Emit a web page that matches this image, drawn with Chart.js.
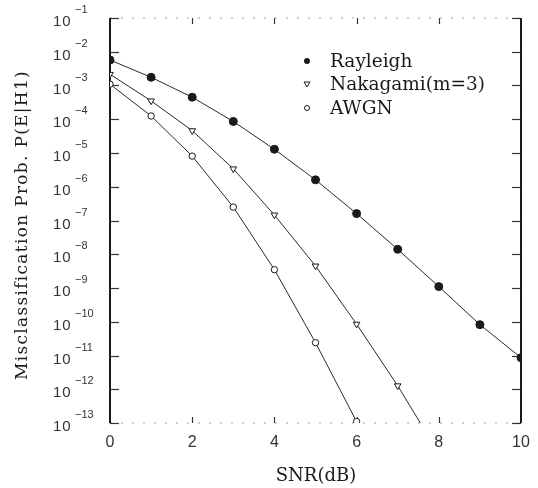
<!DOCTYPE html>
<html>
<head>
<meta charset="utf-8">
<script src="https://cdn.jsdelivr.net/npm/chart.js@4/dist/chart.umd.min.js"></script>
<style>
  html, body { margin: 0; padding: 0; background: #fff; }
  canvas { display: block; }
</style>
</head>
<body>
<canvas id="errChart" width="538" height="488"></canvas>
<script>
// SNR in dB and misclassification probabilities per channel
const snr = [0, 1, 2, 3, 4, 5, 6, 7, 8, 9, 10];
const rayleigh = [5.7e-3, 1.75e-3, 4.5e-4, 8.6e-5, 1.29e-5, 1.6e-6, 1.6e-7, 1.4e-8, 1.1e-9, 8.2e-11, 8.6e-12];
const nakagami = [2.15e-3, 3.5e-4, 4.6e-5, 3.4e-6, 1.46e-7, 4.5e-9, 8.5e-11, 1.27e-12, 1.26e-14];
const awgn = [1.09e-3, 1.25e-4, 8.1e-6, 2.5e-7, 3.5e-9, 2.4e-11, 1.1e-13];

const seriesNames = ['Rayleigh', 'Nakagami(m=3)', 'AWGN'];
const xTicks = [0, 2, 4, 6, 8, 10];
const yExponents = [-1, -2, -3, -4, -5, -6, -7, -8, -9, -10, -11, -12, -13];

const yTitle = 'Misclassification Prob. P(E|H1)';
const xTitle = 'SNR(dB)';

const ink = '#1a1a1a';
const tickFont = '"Liberation Sans", Arial, sans-serif';
const textFont = '"DejaVu Serif", "Liberation Serif", serif';

function toPoints(values) {
    return values.map((v, i) => ({ x: snr[i], y: v }));
}

function strokeLine(ctx, x1, y1, x2, y2) {
    ctx.beginPath();
    ctx.moveTo(x1, y1);
    ctx.lineTo(x2, y2);
    ctx.stroke();
}

// Frame, tick marks, tick labels, titles and legend
const decorations = {
    id: 'decorations',
    beforeDatasetsDraw(chart) {
        const { ctx, chartArea: a, scales: { x, y } } = chart;
        ctx.save();

        // faint dotted top and bottom edges
        ctx.strokeStyle = '#a0a0a0';
        ctx.lineWidth = 1;
        ctx.setLineDash([2, 9]);
        strokeLine(ctx, a.left, a.top, a.right, a.top);
        strokeLine(ctx, a.left, a.bottom, a.right, a.bottom);
        ctx.setLineDash([]);

        // solid left and right edges
        ctx.strokeStyle = ink;
        ctx.lineWidth = 2;
        strokeLine(ctx, a.left, a.top, a.left, a.bottom);
        strokeLine(ctx, a.right, a.top, a.right, a.bottom);

        // inward ticks
        ctx.lineWidth = 1.2;
        ctx.strokeStyle = '#333';
        yExponents.forEach(e => {
            const py = Math.round(y.getPixelForValue(Math.pow(10, e))) + 0.5;
            strokeLine(ctx, a.left, py, a.left + 9, py);
            strokeLine(ctx, a.right - 9, py, a.right, py);
        });
        xTicks.slice(1, -1).forEach(t => {
            const px = Math.round(x.getPixelForValue(t)) + 0.5;
            strokeLine(ctx, px, a.top, px, a.top + 6);
            strokeLine(ctx, px, a.bottom - 6, px, a.bottom);
        });
        ctx.restore();
    },
    afterDraw(chart) {
        const { ctx, chartArea: a, scales: { x, y } } = chart;
        ctx.save();
        ctx.fillStyle = '#333';

        // y tick labels: 10 with a raised exponent
        yExponents.forEach(e => {
            const py = y.getPixelForValue(Math.pow(10, e));
            ctx.font = '15px ' + tickFont;
            ctx.letterSpacing = '1px';
            ctx.textAlign = 'left';
            ctx.textBaseline = 'middle';
            ctx.fillText('10', 53, py + 4);
            ctx.letterSpacing = '0px';
            ctx.font = '11px ' + tickFont;
            ctx.fillText('\u2212' + Math.abs(e), 75, py - 8);
        });

        // x tick labels
        ctx.font = '16px ' + tickFont;
        ctx.textAlign = 'center';
        ctx.textBaseline = 'middle';
        xTicks.forEach(t => ctx.fillText(String(t), x.getPixelForValue(t), 443));

        // axis titles
        ctx.fillStyle = ink;
        ctx.font = '18px ' + textFont;
        ctx.fillText(xTitle, 316, 476);
        ctx.save();
        ctx.translate(23, 225);
        ctx.rotate(-Math.PI / 2);
        ctx.font = '17px ' + textFont;
        ctx.letterSpacing = '1.3px';
        ctx.fillText(yTitle, 0, 0);
        ctx.restore();

        // legend
        const rows = [61, 84, 108];
        ctx.font = '18.5px ' + textFont;
        ctx.textAlign = 'left';
        chart.data.datasets.forEach((ds, i) => {
            const my = rows[i];
            const mx = 307;
            ctx.strokeStyle = ink;
            ctx.fillStyle = ink;
            ctx.lineWidth = 1;
            ctx.beginPath();
            if (i === 0) {
                ctx.arc(mx, my, 3, 0, Math.PI * 2);
                ctx.fill();
            } else if (i === 1) {
                ctx.moveTo(mx - 3, my - 2);
                ctx.lineTo(mx + 3, my - 2);
                ctx.lineTo(mx, my + 3);
                ctx.closePath();
                ctx.stroke();
            } else {
                ctx.arc(mx, my, 2.5, 0, Math.PI * 2);
                ctx.stroke();
            }
            ctx.fillText(ds.label, 330, my + 1);
        });
        ctx.restore();
    }
};

const baseSet = {
    borderColor: '#2a2a2a',
    borderWidth: 1,
    pointBorderColor: ink,
    pointBorderWidth: 1,
    fill: false,
    tension: 0
};

new Chart(document.getElementById('errChart'), {
    type: 'line',
    data: {
        datasets: [
            Object.assign({}, baseSet, {
                label: seriesNames[0],
                data: toPoints(rayleigh),
                pointStyle: 'circle',
                pointRadius: 4,
                pointBackgroundColor: ink
            }),
            Object.assign({}, baseSet, {
                label: seriesNames[1],
                data: toPoints(nakagami),
                pointStyle: 'triangle',
                pointRotation: 180,
                pointRadius: 3.8,
                pointBackgroundColor: '#fff'
            }),
            Object.assign({}, baseSet, {
                label: seriesNames[2],
                data: toPoints(awgn),
                pointStyle: 'circle',
                pointRadius: 3.2,
                pointBackgroundColor: '#fff'
            })
        ]
    },
    options: {
        responsive: false,
        animation: false,
        devicePixelRatio: 1,
        layout: { padding: { left: 110, right: 17, top: 18, bottom: 65 } },
        plugins: { legend: { display: false }, tooltip: { enabled: false } },
        scales: {
            x: {
                type: 'linear', min: 0, max: 10,
                grid: { display: false, drawTicks: false },
                border: { display: false },
                ticks: { display: false },
                afterFit: s => { s.height = 0; }
            },
            y: {
                type: 'logarithmic', min: 1e-13, max: 1e-1,
                grid: { display: false, drawTicks: false },
                border: { display: false },
                ticks: { display: false },
                afterFit: s => { s.width = 0; }
            }
        }
    },
    plugins: [decorations]
});
</script>
</body>
</html>
